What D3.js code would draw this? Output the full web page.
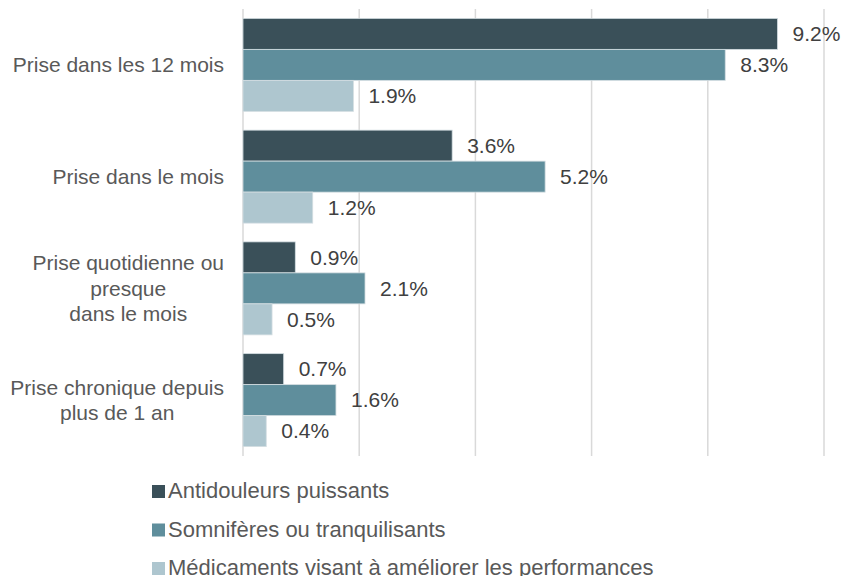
<!DOCTYPE html>
<html>
<head>
<meta charset="utf-8">
<script src="https://cdn.jsdelivr.net/npm/d3@7"></script>
<style>
  body { margin: 0; background: #fff; }
  svg { display: block; font-family: "Liberation Sans", Arial, sans-serif; }
</style>
</head>
<body>
<div id="chart"></div>
<script>
const categories = [
  ["Prise dans les 12 mois"],
  ["Prise dans le mois"],
  ["Prise quotidienne ou", "presque", "dans le mois"],
  ["Prise chronique depuis", "plus de 1 an"]
];
const seriesNames = [
  "Antidouleurs puissants",
  "Somnifères ou tranquilisants",
  "Médicaments visant à améliorer les performances"
];
const antidouleurs = [9.2, 3.6, 0.9, 0.7];
const somniferes = [8.3, 5.2, 2.1, 1.6];
const performances = [1.9, 1.2, 0.5, 0.4];
const gridTicks = [0, 2, 4, 6, 8, 10];

const series = [antidouleurs, somniferes, performances];
const colors = ["#3a5059", "#5f8e9c", "#aec6cf"];

const width = 843, height = 576;
const x0 = 243, x1 = 824, yTop = 9, yBottom = 456;

const svg = d3.select("#chart")
  .append("svg")
  .attr("width", width)
  .attr("height", height);

const x = d3.scaleLinear()
  .domain([0, 10])
  .range([x0, x1]);

const catKeys = categories.map((c, i) => i);
const y = d3.scaleBand()
  .domain(catKeys)
  .range([yTop, yBottom])
  .paddingInner(0.168)
  .paddingOuter(0.084);

const ySub = d3.scaleBand()
  .domain(d3.range(series.length))
  .range([0, y.bandwidth()]);

//Gridlines
svg.append("g")
  .selectAll("line")
  .data(gridTicks)
  .join("line")
    .attr("x1", d => x(d))
    .attr("x2", d => x(d))
    .attr("y1", yTop)
    .attr("y2", yBottom)
    .attr("stroke", "#d9d9d9")
    .attr("stroke-width", 1.5);

//Bars + value labels
series.forEach((vals, s) => {
  const g = svg.append("g");
  g.selectAll("rect")
    .data(vals)
    .join("rect")
      .attr("x", x(0))
      .attr("y", (d, i) => y(i) + ySub(s))
      .attr("width", d => x(d) - x(0))
      .attr("height", ySub.bandwidth())
      .attr("fill", colors[s])
      .attr("stroke", "#d3dde1")
      .attr("stroke-width", 0.8);

  g.selectAll("text")
    .data(vals)
    .join("text")
      .attr("x", d => x(d) + 15)
      .attr("y", (d, i) => y(i) + ySub(s) + ySub.bandwidth() / 2)
      .attr("dy", "0.35em")
      .style("font-size", "21px")
      .style("fill", "#404040")
      .text(d => d.toFixed(1) + "%");
});

//Category labels
const lineH = 25.5;
categories.forEach((lines, i) => {
  const cy = y(i) + y.bandwidth() / 2;
  const t = svg.append("text")
    .style("font-size", "21px")
    .style("fill", "#595959")
    .attr("text-anchor", "middle");
  lines.forEach((ln, k) => {
    t.append("tspan")
      .attr("x", 0)
      .attr("y", cy + (k - (lines.length - 1) / 2) * lineH)
      .attr("dy", "0.35em")
      .text(ln);
  });
  // right-align the block at x = 224, lines centred on the widest one
  const w = t.node().getBBox().width;
  t.selectAll("tspan").attr("x", 224 - w / 2);
});

//Legend
const legend = svg.append("g");
seriesNames.forEach((name, i) => {
  const base = 498 + i * 38.5;
  legend.append("rect")
    .attr("x", 152)
    .attr("y", base - 13)
    .attr("width", 13)
    .attr("height", 13)
    .attr("fill", colors[i]);
  legend.append("text")
    .attr("x", 168)
    .attr("y", base)
    .style("font-size", "22px")
    .style("fill", "#595959")
    .text(name);
});
</script>
</body>
</html>
